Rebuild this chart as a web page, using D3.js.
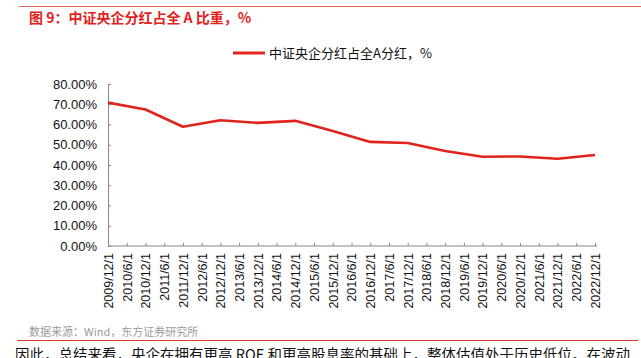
<!DOCTYPE html>
<meta charset="utf-8">
<script src="https://d3js.org/d3.v7.min.js"></script>
<style>
  body { margin: 0; background: #fff; }
  text { font-family: "Liberation Sans", "Noto Sans CJK SC", sans-serif; }
</style>
<div id="my_dataviz"></div>
<script>

// tick labels (every half year) and yearly values
var dates = ["2009/12/1","2010/6/1","2010/12/1","2011/6/1","2011/12/1","2012/6/1","2012/12/1",
  "2013/6/1","2013/12/1","2014/6/1","2014/12/1","2015/6/1","2015/12/1","2016/6/1","2016/12/1",
  "2017/6/1","2017/12/1","2018/6/1","2018/12/1","2019/6/1","2019/12/1","2020/6/1","2020/12/1",
  "2021/6/1","2021/12/1","2022/6/1","2022/12/1"];
var years = ["2009/12/1","2010/12/1","2011/12/1","2012/12/1","2013/12/1","2014/12/1","2015/12/1",
  "2016/12/1","2017/12/1","2018/12/1","2019/12/1","2020/12/1","2021/12/1","2022/12/1"];
var share = [70.8, 67.4, 58.9, 62.1, 60.8, 61.8, 56.8, 51.4, 50.9, 46.9, 44.1, 44.2, 43.1, 44.9];
var yTicks = [0, 10, 20, 30, 40, 50, 60, 70, 80];

var W = 641, H = 358;
var svg = d3.select("#my_dataviz").append("svg")
  .attr("width", W).attr("height", H);

// header
svg.append("line").attr("x1", 19).attr("x2", W).attr("y1", 6.5).attr("y2", 6.5)
  .attr("stroke", "#e8635a").attr("stroke-width", 1);
svg.append("text").attr("x", 29).attr("y", 23)
  .attr("fill", "#e0231c").style("font-size", "14px").style("font-weight", "bold")
  .style("font-family", "'Noto Sans CJK SC', sans-serif")
  .text("图 9：中证央企分红占全 A 比重，%");

// legend
svg.append("line").attr("x1", 233).attr("x2", 265).attr("y1", 53).attr("y2", 53)
  .attr("stroke", "#e0231c").attr("stroke-width", 3);
svg.append("text").attr("x", 269).attr("y", 58)
  .style("font-size", "13px").style("font-family", "'Noto Sans CJK SC', sans-serif")
  .attr("fill", "#111").text("中证央企分红占全A分红，%");

var x = d3.scalePoint().domain(dates).range([108, 595]);
var y = d3.scaleLinear().domain([0, 80]).range([246, 84]);

// y axis
var gy = svg.append("g").attr("transform", "translate(108,0)")
  .call(d3.axisRight(y).tickValues(yTicks).tickSize(3).tickFormat(function(d){ return d.toFixed(2) + "%"; }));
gy.select(".domain").attr("stroke", "#888");
gy.selectAll(".tick line").attr("stroke", "#888");
gy.selectAll(".tick text").attr("x", -11).attr("text-anchor", "end")
  .attr("fill", "#111").style("font-size", "13px").style("font-family", "'Liberation Sans', sans-serif");

// x axis
var gx = svg.append("g").attr("transform", "translate(0,246)")
  .call(d3.axisTop(x).tickSize(3).tickSizeOuter(0));
gx.select(".domain").attr("stroke", "#888").attr("d", "M108,0H597");
gx.selectAll(".tick line").attr("stroke", "#888");
gx.selectAll(".tick text")
  .attr("transform", "rotate(-90)")
  .attr("x", -7).attr("y", 0).attr("dy", "0.35em")
  .attr("text-anchor", "end")
  .attr("fill", "#111").style("font-size", "12.5px").style("font-family", "'Liberation Sans', sans-serif");

// line
svg.append("path").datum(share)
  .attr("fill", "none").attr("stroke", "#e0231c").attr("stroke-width", 2.6)
  .attr("stroke-linejoin", "round")
  .attr("d", d3.line().x(function(d, i){ return x(years[i]); }).y(function(d){ return y(d); }));

// footer
svg.append("text").attr("x", 29).attr("y", 336)
  .attr("fill", "#9a9a9a").style("font-size", "11px")
  .style("font-family", "'Noto Sans CJK SC', sans-serif")
  .text("数据来源：Wind，东方证券研究所");
svg.append("line").attr("x1", 17).attr("x2", 638).attr("y1", 340.5).attr("y2", 340.5)
  .attr("stroke", "#d9382e").attr("stroke-width", 1);
svg.append("text").attr("x", 15).attr("y", 360)
  .attr("fill", "#111").style("font-size", "14.5px")
  .style("font-family", "'Noto Sans CJK SC', sans-serif")
  .text("因此，总结来看，央企在拥有更高 ROE 和更高股息率的基础上，整体估值处于历史低位。在波动");

</script>
